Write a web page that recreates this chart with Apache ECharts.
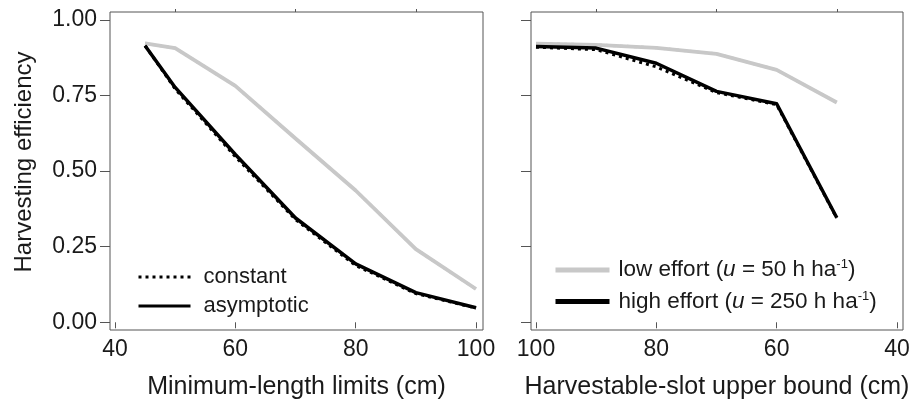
<!DOCTYPE html>
<html>
<head>
<meta charset="utf-8">
<script src="https://cdn.jsdelivr.net/npm/echarts@6/dist/echarts.min.js"></script>
<style>
html,body{margin:0;padding:0;background:#fff;}
#chart{width:922px;height:405px;}
</style>
</head>
<body>
<div id="chart"></div>
<script>
// Left panel: minimum-length limits (cm)
const leftX = [45, 50, 60, 70, 80, 90, 100];
const leftLowConstant = [0.923, 0.907, 0.782, 0.608, 0.436, 0.242, 0.110];
const leftLowAsymptotic = [0.923, 0.907, 0.782, 0.608, 0.436, 0.242, 0.110];
const leftHighConstant = [0.915, 0.772, 0.548, 0.340, 0.188, 0.095, 0.047];
const leftHighAsymptotic = [0.915, 0.777, 0.555, 0.345, 0.193, 0.098, 0.048];

// Right panel: harvestable-slot upper bound (cm)
const rightX = [100, 90, 80, 70, 60, 50];
const rightLowConstant = [0.922, 0.918, 0.908, 0.888, 0.835, 0.727];
const rightLowAsymptotic = [0.922, 0.918, 0.908, 0.888, 0.835, 0.727];
const rightHighConstant = [0.910, 0.902, 0.845, 0.760, 0.720, 0.344];
const rightHighAsymptotic = [0.912, 0.907, 0.857, 0.764, 0.723, 0.346];

// Ticks
const yTicks = [0, 0.25, 0.5, 0.75, 1.0];
const xMajorTicks = [40, 60, 80, 100];
const xMinorTicks = [50, 70, 90];

const FONT = "'Liberation Sans', Arial, Helvetica, sans-serif";
const TXT = '#1a1a1a';
const AX = '#555';
const GRAY = '#c8c8c8';

function pairs(xs, ys) { return xs.map((x, i) => [x, ys[i]]); }

function majorX(grid, min, max, inverse, name) {
  return {
    type: 'value', gridIndex: grid, min: min, max: max, inverse: inverse,
    axisLine: { show: false },
    splitLine: { show: false },
    axisTick: { show: true, customValues: xMajorTicks, length: 6, lineStyle: { color: AX, width: 1 } },
    axisLabel: { show: true, customValues: xMajorTicks, margin: 8, fontSize: 23, color: TXT, fontFamily: FONT },
    name: name, nameLocation: 'middle', nameGap: 45,
    nameTextStyle: { fontSize: 25, color: TXT, fontFamily: FONT }
  };
}
function minorX(grid, min, max, inverse) {
  return {
    type: 'value', gridIndex: grid, min: min, max: max, inverse: inverse,
    axisLine: { show: false },
    splitLine: { show: false },
    axisTick: { show: true, customValues: xMinorTicks, length: 3, lineStyle: { color: AX, width: 1 } },
    axisLabel: { show: false }
  };
}
function yAx(grid, labels) {
  return {
    type: 'value', gridIndex: grid, min: -0.0255, max: 1.0265,
    axisLine: { show: false },
    splitLine: { show: false },
    axisTick: { show: true, customValues: yTicks, length: 10, lineStyle: { color: AX, width: 1 } },
    axisLabel: { show: labels, customValues: yTicks, margin: 13, fontSize: 23, color: TXT, fontFamily: FONT,
      formatter: v => v.toFixed(2) },
    name: labels ? 'Harvesting efficiency' : '', nameLocation: 'middle', nameGap: 74,
    nameTextStyle: { fontSize: 24, color: TXT, fontFamily: FONT, padding: [0, 0, 0, 18] }
  };
}
function line(name, xi, yi, data, color, width, type, z) {
  return {
    type: 'line', name: name, xAxisIndex: xi, yAxisIndex: yi, data: data,
    symbol: 'none', showSymbol: false, z: z,
    lineStyle: { color: color, width: width, type: type, cap: 'butt', join: 'round' },
    itemStyle: { color: color },
    emphasis: { disabled: true }, silent: true
  };
}

const option = {
  animation: false,
  backgroundColor: '#fff',
  grid: [
    { left: 110, top: 12, width: 373, height: 319, show: true, borderColor: AX, borderWidth: 1, backgroundColor: 'transparent' },
    { left: 531, top: 12, width: 372, height: 319, show: true, borderColor: AX, borderWidth: 1, backgroundColor: 'transparent' }
  ],
  xAxis: [
    majorX(0, 39.17, 101.16, false, 'Minimum-length limits (cm)'),
    minorX(0, 39.17, 101.16, false),
    majorX(1, 39.0, 100.83, true, 'Harvestable-slot upper bound (cm)'),
    minorX(1, 39.0, 100.83, true)
  ],
  yAxis: [yAx(0, true), yAx(1, false)],
  legend: [
    {
      data: ['constant', 'asymptotic'], orient: 'vertical', left: 137, top: 266, padding: 0,
      itemWidth: 52, itemHeight: 20, itemGap: 7,
      lineStyle: { width: 3 },
      itemStyle: { opacity: 0 },
      textStyle: { fontSize: 22, color: TXT, fontFamily: FONT, padding: [0, 0, 0, 8] },
      selectedMode: false
    },
    {
      data: ['low effort', 'high effort'], orient: 'vertical', left: 553, top: 258, padding: 0,
      itemWidth: 54, itemHeight: 20, itemGap: 8,
      lineStyle: { width: 5 },
      itemStyle: { opacity: 0 },
      formatter: n => n === 'low effort'
        ? '{n|low effort (}{i|u}{n| = 50 h ha}{s|-1}{n|)}'
        : '{n|high effort (}{i|u}{n| = 250 h ha}{s|-1}{n|)}',
      textStyle: {
        fontSize: 22.5, color: TXT, fontFamily: FONT, padding: [0, 0, 0, 4],
        rich: {
          n: { fontSize: 22.5, color: TXT, fontFamily: FONT, lineHeight: 24 },
          i: { fontSize: 22.5, color: TXT, fontFamily: FONT, fontStyle: 'italic', lineHeight: 24 },
          s: { fontSize: 13, color: TXT, fontFamily: FONT, lineHeight: 13, verticalAlign: 'top' }
        }
      },
      selectedMode: false
    }
  ],
  series: [
    line('lowC-L', 0, 0, pairs(leftX, leftLowConstant), GRAY, 3, [3, 4], 1),
    line('lowA-L', 0, 0, pairs(leftX, leftLowAsymptotic), GRAY, 3.8, 'solid', 2),
    line('constant', 0, 0, pairs(leftX, leftHighConstant), '#000', 3, [3, 4], 3),
    line('asymptotic', 0, 0, pairs(leftX, leftHighAsymptotic), '#000', 3.5, 'solid', 4),
    line('lowC-R', 2, 1, pairs(rightX, rightLowConstant), GRAY, 3, [3, 4], 1),
    line('low effort', 2, 1, pairs(rightX, rightLowAsymptotic), GRAY, 3.8, 'solid', 2),
    line('highC-R', 2, 1, pairs(rightX, rightHighConstant), '#000', 3, [3, 4], 3),
    line('high effort', 2, 1, pairs(rightX, rightHighAsymptotic), '#000', 3.5, 'solid', 4)
  ]
};

const chart = echarts.init(document.getElementById('chart'), null, { renderer: 'canvas' });
chart.setOption(option);
</script>
</body>
</html>
